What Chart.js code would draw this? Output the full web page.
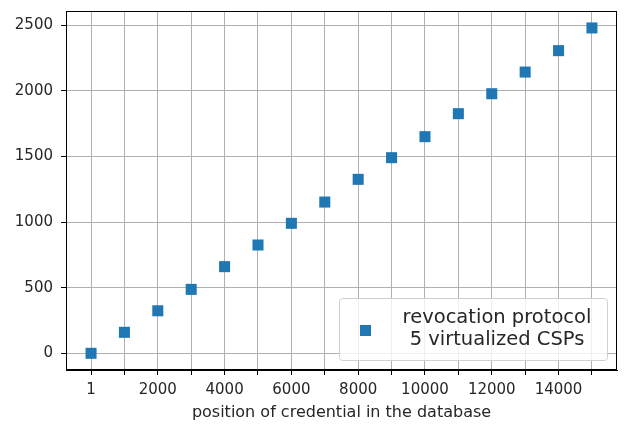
<!DOCTYPE html>
<html><head><meta charset="utf-8">
<script src="https://cdn.jsdelivr.net/npm/chart.js@4/dist/chart.umd.min.js"></script>
<style>html,body{margin:0;padding:0;background:#fff}#wrap{width:625px;height:426px}</style>
</head><body><div id="wrap"><canvas id="c" width="625" height="426"></canvas></div>
<script>
const positions = [1,1000,2000,3000,4000,5000,6000,7000,8000,9000,10000,11000,12000,13000,14000,15000];
const times = [0,160,324,487,660,825,990,1152,1325,1490,1650,1825,1977,2142,2305,2478];
const xTickLabels = ['1','','2000','','4000','','6000','','8000','','10000','','12000','','14000',''];
const seriesLabel = ['revocation protocol','5 virtualized CSPs'];
const xTitle = 'position of credential in the database';
const yTicks = [0,500,1000,1500,2000,2500];

const FONT = 'DejaVu Sans';
const blue = '#1f77b4';

const framePlugin = {
  id:'frame',
  afterDatasetsDraw(chart){
    const {ctx, chartArea:a} = chart;
    ctx.save();
    ctx.strokeStyle='#000'; ctx.lineWidth=1;
    ctx.strokeRect(Math.round(a.left)+0.5, Math.round(a.top)+0.5, Math.round(a.right-a.left)-1, Math.round(a.bottom-a.top)-1);
    // legend
    const bx=339, by=298, bw=268, bh=62;
    ctx.fillStyle='rgba(255,255,255,0.8)';
    ctx.strokeStyle='#d0d0d0';
    ctx.beginPath();
    if (ctx.roundRect) ctx.roundRect(bx+0.5,by+0.5,bw,bh,3); else ctx.rect(bx+0.5,by+0.5,bw,bh);
    ctx.fill(); ctx.stroke();
    ctx.fillStyle=blue;
    ctx.fillRect(360,325,11,11);
    ctx.fillStyle='#262626';
    ctx.font='19.5px "'+FONT+'"';
    ctx.textAlign='center'; ctx.textBaseline='middle';
    ctx.fillText(seriesLabel[0], 497, 318);
    ctx.fillText(seriesLabel[1], 497, 340);
    ctx.restore();
  }
};

new Chart(document.getElementById('c'), {
  type:'scatter',
  data:{datasets:[{
    label: seriesLabel.join('\n'),
    data: positions.map((x,i)=>({x, y: times[i]})),
    pointStyle:'rect', pointRadius:7.8, pointHoverRadius:7.8,
    backgroundColor: blue, borderColor: blue, borderWidth:0
  }]},
  options:{
    responsive:false, animation:false,
    layout:{padding:{left:0,top:11,right:8,bottom:0}},
    plugins:{legend:{display:false}, tooltip:{enabled:false}},
    scales:{
      x:{
        type:'linear', min:-749, max:15750,
        afterBuildTicks(s){ s.ticks = positions.map(v=>({value:v})); },
        afterFit(s){ s.height = 56; s.paddingLeft = 0; s.paddingRight = 0; },
        ticks:{ autoSkip:false, maxRotation:0, color:'#262626', padding:6,
          font:{family:FONT,size:15},
          callback:(v,i)=> xTickLabels[i] },
        grid:{ color:'#b0b0b0', lineWidth:1, tickLength:5, tickColor:'#000', drawTicks:true },
        border:{ display:true, color:'#000' },
        title:{ display:true, text:xTitle, color:'#262626', font:{family:FONT,size:16}, padding:{top:0,bottom:4} }
      },
      y:{
        type:'linear', min:-127, max:2607,
        afterBuildTicks(s){ s.ticks = yTicks.map(v=>({value:v})); },
        afterFit(s){ s.width = 66; s.paddingTop = 0; s.paddingBottom = 0; },
        ticks:{ color:'#262626', padding:8, font:{family:FONT,size:15},
          callback:(v)=> String(v) },
        grid:{ color:'#b0b0b0', lineWidth:1, tickLength:5, tickColor:'#000' },
        border:{ display:true, color:'#000' }
      }
    }
  },
  plugins:[framePlugin]
});
</script></body></html>
